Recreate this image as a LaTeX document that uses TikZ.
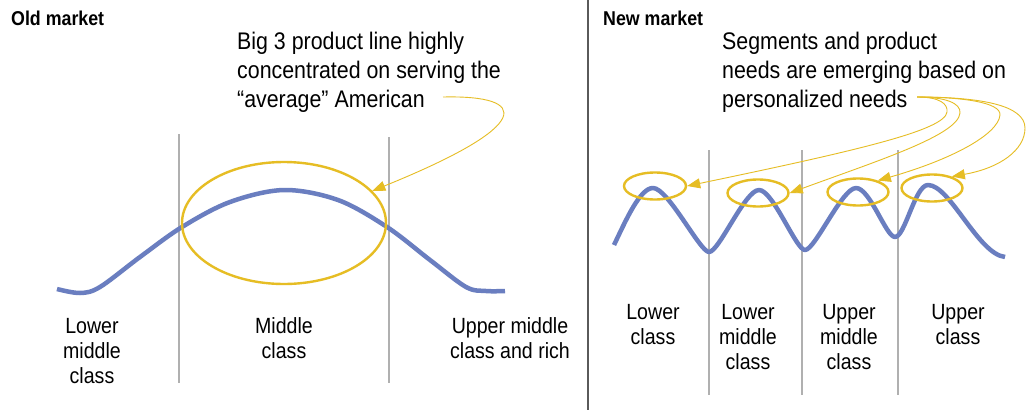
\documentclass[tikz,border=0pt]{standalone}
\usepackage{fontspec}
\setmainfont{Liberation Sans}[FakeStretch=0.89]
\usetikzlibrary{arrows.meta,shapes.geometric}
\definecolor{curveblue}{RGB}{106,126,192}
\definecolor{ringyellow}{RGB}{230,189,36}
\definecolor{rulegray}{RGB}{176,176,176}
\definecolor{dividergray}{RGB}{90,90,90}
\tikzset{
  heading/.style={anchor=base west, inner sep=0pt, font=\fontsize{20}{24}\selectfont\bfseries},
  % multi-line nodes: the base anchor sits on the last line
  caption/.style={anchor=base west, inner sep=0pt, align=left, font=\fontsize{24}{29}\selectfont},
  classlabel/.style={anchor=base, inner sep=0pt, align=center, font=\fontsize{22}{25}\selectfont},
  demand/.style={draw=curveblue, line width=4.5pt, line join=round},
  ring/.style={draw=ringyellow, line width=2.4pt},
  pointer/.style={draw=ringyellow, line width=0.9pt, -{Triangle[length=13pt,width=10pt]}},
  band/.style={draw=rulegray, line width=1.3pt},
}
\begin{document}
\begin{tikzpicture}[x=1pt,y=-1pt]
\useasboundingbox (0,0) rectangle (1031,410);
\fill[white] (0,0) rectangle (1031,410);

% panel divider
\coordinate (divtop) at (588,0);
\coordinate (divbot) at (588,410);
\draw[draw=dividergray, line width=1.4pt] (divtop) -- (divbot);

% ---------------- Old market ----------------
\node[heading] (oldhead) at (11,25) {Old market};
\node[caption] (oldtext) at (237,107) {Big 3 product line highly\\concentrated on serving the\\“average” American};

\coordinate (l1t) at (179,134); \coordinate (l1b) at (179,383);
\coordinate (l2t) at (389,137); \coordinate (l2b) at (389,383);
\draw[band] (l1t) -- (l1b);
\draw[band] (l2t) -- (l2b);

\draw[demand] plot[smooth, tension=0.55] coordinates {(57,289) (80,293) (100,287) (140,257) (182,227) (230,202) (284,190) (338,200) (387,227) (430,260) (466,287) (486,291) (505,291)};

\node[ring, ellipse, minimum width=204pt, minimum height=122pt, inner sep=0pt] (bigring) at (284,223) {};

\coordinate (oldsrc) at (443,97);
\draw[pointer] (oldsrc) .. controls (530,95) and (535,125) .. (bigring.20);

\node[classlabel] (lmc) at (92,383) {Lower\\middle\\class};
\node[classlabel] (mc) at (284,358) {Middle\\class};
\node[classlabel] (umc) at (510,358) {Upper middle\\class and rich};

% ---------------- New market ----------------
\node[heading] (newhead) at (603,25) {New market};
\node[caption] (newtext) at (722,107) {Segments and product\\needs are emerging based on\\personalized needs};

\coordinate (r1t) at (709,150); \coordinate (r1b) at (709,395);
\coordinate (r2t) at (802,150); \coordinate (r2b) at (802,395);
\coordinate (r3t) at (898,150); \coordinate (r3b) at (898,395);
\draw[band] (r1t) -- (r1b);
\draw[band] (r2t) -- (r2b);
\draw[band] (r3t) -- (r3b);

\draw[demand] (614,245) .. controls (626,220) and (640,188) .. (653,188)
  .. controls (668,188) and (700,252) .. (709,252)
  .. controls (719,252) and (745,190) .. (759,190)
  .. controls (773,190) and (796,250) .. (805,250)
  .. controls (815,250) and (842,188) .. (856,188)
  .. controls (870,188) and (886,237) .. (895,237)
  .. controls (905,237) and (915,185) .. (928,185)
  .. controls (950,185) and (978,254) .. (1005,257);

\node[ring, ellipse, minimum width=62pt, minimum height=27pt, inner sep=0pt] (ringA) at (655,186) {};
\node[ring, ellipse, minimum width=61pt, minimum height=27pt, inner sep=0pt] (ringB) at (758,193) {};
\node[ring, ellipse, minimum width=61pt, minimum height=27pt, inner sep=0pt] (ringC) at (858,192) {};
\node[ring, ellipse, minimum width=61pt, minimum height=27pt, inner sep=0pt] (ringD) at (932,188) {};

\coordinate (newsrc) at (917,97);
\draw[pointer] (newsrc) .. controls (940,97) and (948,104) .. (947,112)
  .. controls (945,130) and (860,150) .. (ringA.east);
\draw[pointer] (newsrc) .. controls (945,97) and (961,103) .. (960,113)
  .. controls (958,135) and (880,160) .. (ringB.east);
\draw[pointer] (newsrc) .. controls (960,97) and (1001,102) .. (1000,115)
  .. controls (998,135) and (950,160) .. (ringC.30);
\draw[pointer] (newsrc) .. controls (980,97) and (1025,105) .. (1025,128)
  .. controls (1025,150) and (1000,168) .. (ringD.30);

\node[classlabel] (lc) at (653,344) {Lower\\class};
\node[classlabel] (rlmc) at (748,369) {Lower\\middle\\class};
\node[classlabel] (rumc) at (849,369) {Upper\\middle\\class};
\node[classlabel] (uc) at (958,344) {Upper\\class};
\end{tikzpicture}
\end{document}
